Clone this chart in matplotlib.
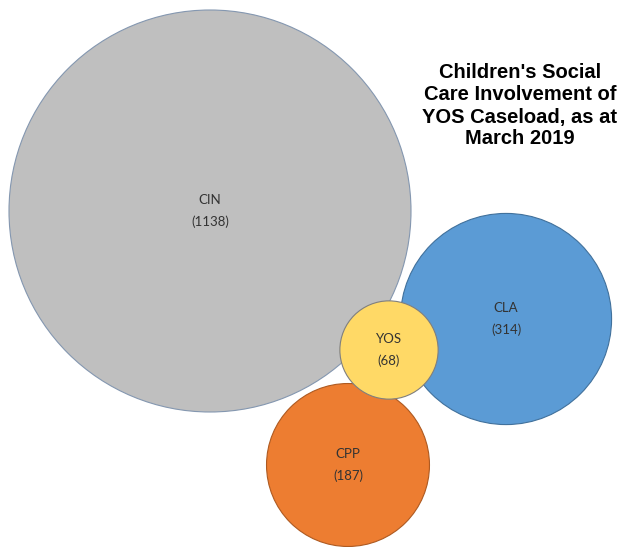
import numpy as np
import matplotlib.pyplot as plt
from matplotlib.patches import Circle

# bubble data (chart units, y grows downward)
names = ["CIN", "CLA", "CPP", "YOS"]
counts = [1138, 314, 187, 68]
x_pos = [210, 506, 348, 389]
y_pos = [211, 319, 465, 350]
colours = ["#BFBFBF", "#5B9BD5", "#ED7D31", "#FFD966"]
edges = ["#8497B0", "#41719C", "#AE5A21", "#7F7F7F"]

title = "Children's Social\nCare Involvement of\nYOS Caseload, as at\nMarch 2019"

fig = plt.figure(figsize=(6.24, 5.47), dpi=100)
ax = fig.add_axes([0, 0, 1, 1])
ax.set_xlim(0, 624)
ax.set_ylim(547, 0)
ax.set_aspect("equal")
ax.axis("off")

scale = 201 / np.sqrt(max(counts))  # bubble area ~ count
for name, n, x, y, c, e in zip(names, counts, x_pos, y_pos, colours, edges):
    r = scale * np.sqrt(n)
    ax.add_patch(Circle((x, y), r, facecolor=c, edgecolor=e, linewidth=0.8))
    ax.text(x, y, f"{name}\n({n})", ha="center", va="center", fontsize=9.5,
            family="Lato", color="#333333", linespacing=1.9)

ax.text(520, 106, title, ha="center", va="center", fontsize=14.5,
        family="Liberation Sans", fontweight="bold", color="black",
        linespacing=1.2)

fig.savefig("out.png", dpi=100)
